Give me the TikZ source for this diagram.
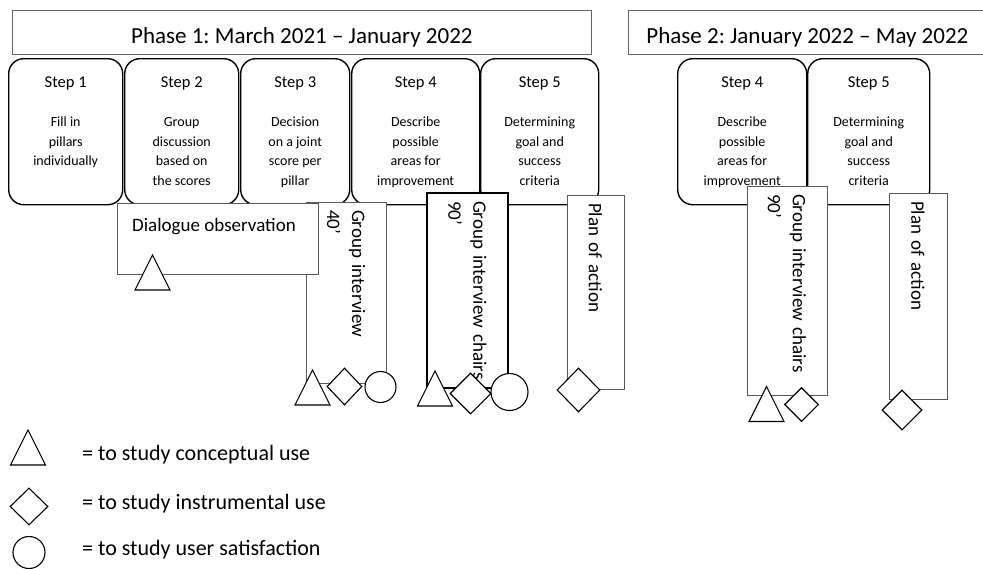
\documentclass[tikz,border=0pt]{standalone}
\usepackage{fontspec}
\setmainfont{Carlito}
\usetikzlibrary{positioning,shapes.geometric}
\frenchspacing

\newcommand{\stephead}[1]{{\fontsize{16.5}{19.5}\selectfont #1}}

\begin{document}
\begin{tikzpicture}[
  x=1pt, y=-1pt,
  phase/.style={rectangle,draw=gray!80!black,line width=0.8pt,anchor=north west,minimum height=44pt,inner sep=0pt,text height=24pt,text depth=2pt,font=\fontsize{23}{28}\selectfont},
  stepbox/.style={rectangle,rounded corners=15pt,draw,line width=1.4pt,anchor=north west,minimum height=146pt},
  steptxt/.style={align=center,inner sep=0pt,font=\fontsize{14}{19.5}\selectfont},
  tool/.style={rectangle,draw=gray!70!black,line width=0.9pt,fill=white,rotate=-90,align=left,inner xsep=8pt,font=\fontsize{19}{25}\selectfont},
  tri/.style={draw,line width=1.1pt,fill=white},
  dia/.style={diamond,draw,line width=1.1pt,fill=white,inner sep=0pt},
  circ/.style={circle,draw,line width=1.1pt,fill=white,inner sep=0pt},
  legend/.style={anchor=base west,inner sep=0pt,font=\fontsize{22}{26}\selectfont}
]
\useasboundingbox (0,0) rectangle (983,568);

% phases
\node[phase,minimum width=579pt] (ph1) at (12,10) {Phase 1: March 2021 -- January 2022};
\node[phase,minimum width=358pt] (ph2) at (628,10) {Phase 2: January 2022 -- May 2022};

% steps phase 1
\node[stepbox,minimum width=114pt] (s1) at (8,58) {};
\node[stepbox,minimum width=114pt] (s2) at (124,58) {};
\node[stepbox,minimum width=109pt] (s3) at (240,58) {};
\node[stepbox,minimum width=128pt] (s4) at (351,58) {};
\node[stepbox,minimum width=118pt] (s5) at (480,58) {};
\node[steptxt,below=19pt of s1.north] (t1) {\stephead{Step 1}\\[19.5pt]Fill in\\pillars\\individually};
\node[steptxt,below=19pt of s2.north] (t2) {\stephead{Step 2}\\[19.5pt]Group\\discussion\\based on\\the scores};
\node[steptxt,below=19pt of s3.north] (t3) {\stephead{Step 3}\\[19.5pt]Decision\\on a joint\\score per\\pillar};
\node[steptxt,below=19pt of s4.north] (t4) {\stephead{Step 4}\\[19.5pt]Describe\\possible\\areas for\\improvement};
\node[steptxt,below=19pt of s5.north] (t5) {\stephead{Step 5}\\[19.5pt]Determining\\goal and\\success\\criteria};

% steps phase 2
\node[stepbox,minimum width=129pt] (s4b) at (677,58) {};
\node[stepbox,minimum width=122pt] (s5b) at (807,58) {};
\node[steptxt,below=19pt of s4b.north] (t4b) {\stephead{Step 4}\\[19.5pt]Describe\\possible\\areas for\\improvement};
\node[steptxt,below=19pt of s5b.north] (t5b) {\stephead{Step 5}\\[19.5pt]Determining\\goal and\\success\\criteria};

% instruments
\node[tool,minimum width=181pt,minimum height=80pt,text width=165pt] (int40) at (346,292.5) {Group interview\\40’};
\node[tool,draw=black,line width=1.3pt,minimum width=195pt,minimum height=81pt,text width=179pt] (chairs) at (467.5,290.5) {Group interview chairs\\90’};
\node[tool,minimum width=194pt,minimum height=57pt,text width=178pt] (plan) at (595.5,292) {Plan of action};
\node[tool,minimum width=209pt,minimum height=80pt,text width=193pt] (chairsb) at (787,290.5) {Group interview chairs\\90’};
\node[tool,minimum width=206pt,minimum height=58pt,text width=190pt] (planb) at (918,296) {Plan of action};

\node[rectangle,draw=gray!70!black,line width=0.9pt,fill=white,anchor=north west,minimum width=201pt,minimum height=71pt] (dlg) at (117,203) {};
\node[inner sep=0pt,font=\fontsize{19}{22}\selectfont,below right=15pt and 15pt of dlg.north west] (dlgtxt) {Dialogue observation};

% marks
\coordinate (tdlg) at (152.5,272.5);
\coordinate (tint) at (312.5,387.5);
\coordinate (tch) at (435,388.5);
\coordinate (tchb) at (766.5,404);
\coordinate (tleg) at (28,447.5);
\foreach \c in {tdlg,tint,tch,tchb,tleg}
  \draw[tri] (\c) ++(-17.5,17.5) -- ++(17.5,-35) -- ++(17.5,35) -- cycle;

\node[dia,minimum width=35pt,minimum height=37pt] (dint) at (344.5,386.5) {};
\node[dia,minimum width=41pt,minimum height=41pt] (dch) at (470.5,393.5) {};
\node[dia,minimum width=43pt,minimum height=44pt] (dplan) at (578.5,390) {};
\node[dia,minimum width=34pt,minimum height=34pt] (dchb) at (801.5,404.5) {};
\node[dia,minimum width=40pt,minimum height=40pt] (dplanb) at (902,410) {};
\node[dia,minimum width=38pt,minimum height=37pt] (dleg) at (29,506.5) {};

\node[circ,minimum size=31pt] (cint) at (380.5,387) {};
\node[circ,minimum size=37pt] (cch) at (509.5,392) {};
\node[circ,minimum size=32pt] (cleg) at (29,552.5) {};

% legend
\node[legend] (lt) at (82,460) {= to study conceptual use};
\node[legend] (ld) at (82,509) {= to study instrumental use};
\node[legend] (lc) at (82,555) {= to study user satisfaction};
\end{tikzpicture}
\end{document}
